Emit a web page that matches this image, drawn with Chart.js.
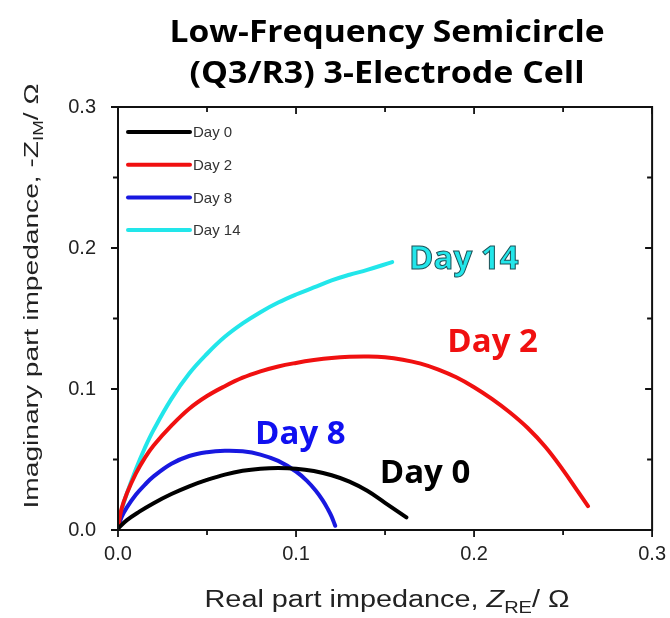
<!DOCTYPE html>
<html>
<head>
<meta charset="utf-8">
<script src="https://cdn.jsdelivr.net/npm/chart.js@4/dist/chart.umd.min.js"></script>
<style>
  html, body { margin: 0; padding: 0; background: #fff; }
  #wrap { width: 670px; height: 618px; }
</style>
</head>
<body>
<div id="wrap"><canvas id="nyquist"></canvas></div>
<script>
// series labels + colours
const seriesNames = ['Day 0', 'Day 2', 'Day 8', 'Day 14'];
const seriesColors = ['#000000', '#f01010', '#1818e0', '#22e6ea'];

// Day 0
const day0Re = [0, 0.005, 0.012, 0.020, 0.030, 0.040, 0.050, 0.060, 0.070, 0.080, 0.090, 0.100, 0.110, 0.120, 0.130, 0.140, 0.150, 0.162];
const day0Im = [0.001, 0.007, 0.013, 0.019, 0.0255, 0.031, 0.0355, 0.0393, 0.042, 0.0435, 0.044, 0.0435, 0.0418, 0.0388, 0.0343, 0.0278, 0.0193, 0.009];
// Day 2
const day2Re = [0, 0.002, 0.005, 0.010, 0.015, 0.020, 0.030, 0.040, 0.050, 0.060, 0.070, 0.080, 0.090, 0.100, 0.110, 0.120, 0.130, 0.140, 0.150, 0.160, 0.170, 0.180, 0.190, 0.200, 0.210, 0.220, 0.230, 0.240, 0.250, 0.258, 0.264];
const day2Im = [0.001, 0.015, 0.026, 0.040, 0.051, 0.060, 0.074, 0.086, 0.095, 0.102, 0.108, 0.1125, 0.116, 0.1185, 0.1205, 0.122, 0.1228, 0.123, 0.1225, 0.1208, 0.118, 0.1138, 0.1083, 0.1013, 0.093, 0.0835, 0.0725, 0.059, 0.0425, 0.028, 0.017];
// Day 8
const day8Re = [0, 0.002, 0.005, 0.010, 0.015, 0.020, 0.030, 0.040, 0.050, 0.060, 0.070, 0.080, 0.090, 0.100, 0.106, 0.111, 0.115, 0.118, 0.120, 0.122];
const day8Im = [0.001, 0.009, 0.016, 0.025, 0.032, 0.038, 0.047, 0.0525, 0.0552, 0.0562, 0.0558, 0.0535, 0.049, 0.0415, 0.035, 0.028, 0.021, 0.0145, 0.0095, 0.003];
// Day 14
const day14Re = [0, 0.002, 0.005, 0.010, 0.015, 0.020, 0.030, 0.040, 0.050, 0.060, 0.070, 0.080, 0.090, 0.100, 0.110, 0.120, 0.130, 0.140, 0.154];
const day14Im = [0.001, 0.014, 0.026, 0.043, 0.058, 0.071, 0.093, 0.111, 0.125, 0.137, 0.1465, 0.1545, 0.1613, 0.167, 0.172, 0.177, 0.181, 0.1845, 0.190];

const axisTicks = [0.0, 0.1, 0.2, 0.3];

const titleLines = ['Low-Frequency Semicircle', '(Q3/R3) 3-Electrode Cell'];

// in-plot labels (data coords of left edge / vertical middle)
const noteText = ['Day 14', 'Day 2', 'Day 8', 'Day 0'];
const noteX = [0.1635, 0.185, 0.077, 0.147];
const noteY = [0.1915, 0.1326, 0.068, 0.040];
const noteFill = ['#22e6ea', '#f01010', '#1010f0', '#000000'];

const ARIAL = '"Liberation Sans", Arial, sans-serif';
const BOLD = '"Open Sans", Lato, sans-serif';

function pts(xs, ys) {
    return xs.map((x, i) => ({ x: x, y: ys[i] }));
}

const seriesData = [pts(day0Re, day0Im), pts(day2Re, day2Im), pts(day8Re, day8Im), pts(day14Re, day14Im)];

const isMajor = v => Math.abs(v * 10 - Math.round(v * 10)) < 1e-6;

// draws a run of text pieces (subscripts etc.) centred on 0 and stretched to a given length
function drawStretched(ctx, parts, len) {
    let w = 0;
    parts.forEach(p => { ctx.font = p.f; w += ctx.measureText(p.t).width; });
    ctx.scale(len / w, 1);
    let cx = -w / 2;
    parts.forEach(p => {
        ctx.font = p.f;
        ctx.fillText(p.t, cx, p.dy);
        cx += ctx.measureText(p.t).width;
    });
}

// title, frame, ticks, axis titles, legend and the coloured notes
const decorations = {
    id: 'decorations',
    afterDraw(chart) {
        const ctx = chart.ctx;
        const a = chart.chartArea;
        const xs = chart.scales.x, ys = chart.scales.y;
        const midX = (a.left + a.right) / 2;
        ctx.save();

        // title
        ctx.fillStyle = '#000';
        ctx.textBaseline = 'alphabetic';
        [[42, 435], [83, 395]].forEach(([base, len], i) => {
            ctx.save();
            ctx.translate(midX + 2, base);
            drawStretched(ctx, [{ t: titleLines[i], f: 'bold 30px ' + BOLD, dy: 0 }], len);
            ctx.restore();
        });

        // box
        ctx.strokeStyle = '#111';
        ctx.lineWidth = 2;
        ctx.strokeRect(a.left, a.top, a.right - a.left, a.bottom - a.top);

        // ticks: outward on bottom/left, inward on top/right
        ctx.lineWidth = 1.8;
        xs.ticks.forEach(t => {
            const px = xs.getPixelForValue(t.value);
            const len = isMajor(t.value) ? 7 : 5;
            ctx.beginPath();
            ctx.moveTo(px, a.bottom); ctx.lineTo(px, a.bottom + len);
            ctx.moveTo(px, a.top); ctx.lineTo(px, a.top + len);
            ctx.stroke();
        });
        ys.ticks.forEach(t => {
            const py = ys.getPixelForValue(t.value);
            const len = isMajor(t.value) ? 7 : 5;
            ctx.beginPath();
            ctx.moveTo(a.left, py); ctx.lineTo(a.left - len, py);
            ctx.moveTo(a.right, py); ctx.lineTo(a.right - len, py);
            ctx.stroke();
        });

        // x title: Real part impedance, Z_RE / Ω
        ctx.fillStyle = '#222';
        ctx.save();
        ctx.translate(midX + 2, 607);
        drawStretched(ctx, [
            { t: 'Real part impedance, ', f: '23px ' + ARIAL, dy: 0 },
            { t: 'Z', f: 'italic 23px ' + ARIAL, dy: 0 },
            { t: 'RE', f: '16px ' + ARIAL, dy: 6 },
            { t: '/ Ω', f: '23px ' + ARIAL, dy: 0 }
        ], 365);
        ctx.restore();

        // y title, rotated
        ctx.save();
        ctx.translate(38, 296);
        ctx.rotate(-Math.PI / 2);
        drawStretched(ctx, [
            { t: 'Imaginary part impedance, -', f: '21px ' + ARIAL, dy: 0 },
            { t: 'Z', f: '21px ' + ARIAL, dy: 0 },
            { t: 'IM', f: '14px ' + ARIAL, dy: 5 },
            { t: '/ Ω', f: '21px ' + ARIAL, dy: 0 }
        ], 425);
        ctx.restore();

        // legend inside the plot
        ctx.textBaseline = 'middle';
        ctx.font = '15px ' + ARIAL;
        chart.data.datasets.forEach((ds, i) => {
            const y = a.top + 25 + i * 32.7;
            ctx.strokeStyle = ds.borderColor;
            ctx.lineWidth = 4;
            ctx.lineCap = 'round';
            ctx.beginPath();
            ctx.moveTo(a.left + 10, y);
            ctx.lineTo(a.left + 72, y);
            ctx.stroke();
            ctx.fillStyle = '#333';
            ctx.fillText(ds.label, a.left + 75, y + 1);
        });

        // coloured notes next to each curve
        ctx.font = 'bold 33px ' + BOLD;
        noteText.forEach((txt, i) => {
            const px = xs.getPixelForValue(noteX[i]);
            const py = ys.getPixelForValue(noteY[i]);
            ctx.fillStyle = noteFill[i];
            ctx.fillText(txt, px, py);
            if (txt === 'Day 14') {
                ctx.strokeStyle = '#1d4f55';
                ctx.lineWidth = 1;
                ctx.strokeText(txt, px, py);
            }
        });
        ctx.restore();
    }
};

new Chart(document.getElementById('nyquist').getContext('2d'), {
    type: 'scatter',
    data: {
        datasets: seriesData.map((d, i) => ({
            label: seriesNames[i],
            data: d,
            showLine: true,
            borderColor: seriesColors[i],
            backgroundColor: seriesColors[i],
            borderWidth: 4,
            borderCapStyle: 'round',
            borderJoinStyle: 'round',
            pointRadius: 0,
            tension: 0.4
        }))
    },
    options: {
        responsive: true,
        maintainAspectRatio: false,
        animation: false,
        layout: { padding: { left: 0, right: 11, top: 107, bottom: 0 } },
        plugins: {
            legend: { display: false },
            tooltip: { enabled: false },
            title: { display: false }
        },
        scales: {
            x: {
                type: 'linear',
                min: 0, max: 0.3,
                grid: { display: false },
                border: { display: false },
                afterFit: s => { s.height = 88; },
                ticks: {
                    stepSize: 0.05,
                    padding: 4,
                    color: '#222',
                    font: { family: ARIAL, size: 20 },
                    autoSkip: false,
                    maxRotation: 0,
                    callback: v => isMajor(v) && axisTicks.some(t => Math.abs(t - v) < 1e-6) ? v.toFixed(1) : ''
                }
            },
            y: {
                type: 'linear',
                min: 0, max: 0.3,
                grid: { display: false },
                border: { display: false },
                afterFit: s => { s.width = 118; },
                ticks: {
                    stepSize: 0.05,
                    padding: 14,
                    color: '#222',
                    font: { family: ARIAL, size: 20 },
                    autoSkip: false,
                    callback: v => isMajor(v) && axisTicks.some(t => Math.abs(t - v) < 1e-6) ? v.toFixed(1) : ''
                }
            }
        }
    },
    plugins: [decorations]
});
</script>
</body>
</html>
